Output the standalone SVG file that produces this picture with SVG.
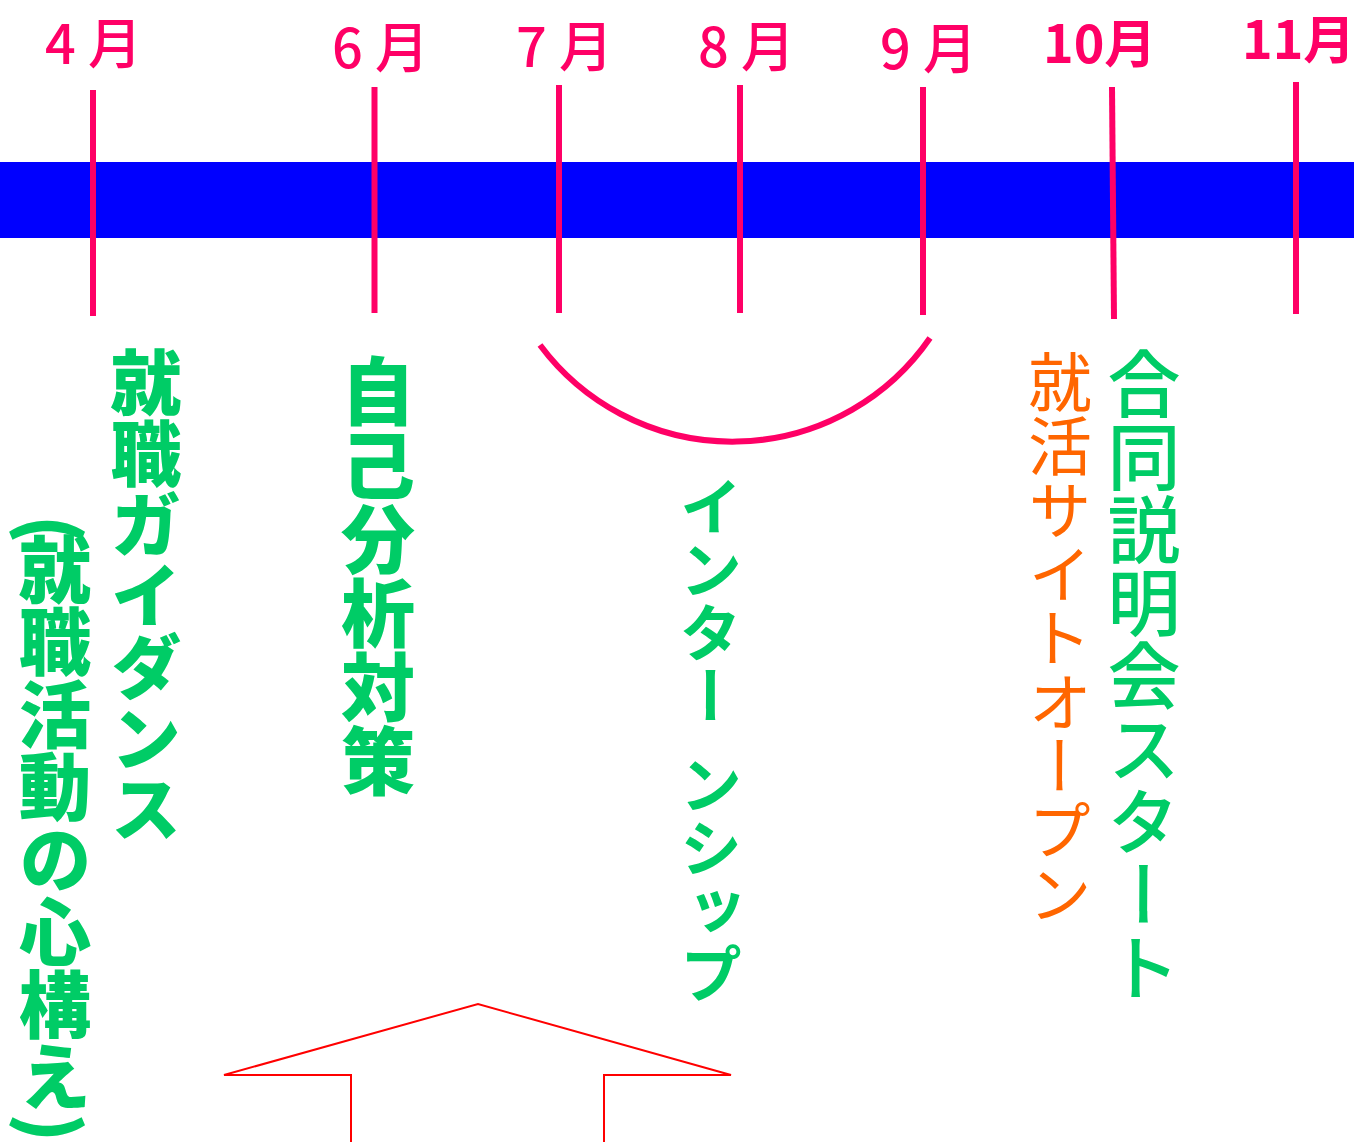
<svg xmlns="http://www.w3.org/2000/svg" width="1354" height="1142" viewBox="0 0 1354 1142">
<style>
.tick{stroke:#FF0066;stroke-width:6;fill:none}
.mon{font-family:"Noto Sans CJK JP","Noto Sans",sans-serif;font-size:54px;fill:#FF0066;font-weight:500}
.monb{font-family:"Noto Sans CJK JP","Noto Sans",sans-serif;font-size:52px;fill:#FF0066;font-weight:700}
.vt{font-family:"Noto Sans CJK JP",sans-serif;writing-mode:vertical-rl;text-orientation:mixed}
.g{fill:#00CC66}
.o{fill:#FF6600}
</style>
<rect id="bar" x="0" y="162" width="1354" height="76" fill="#0000FF"/>
<g id="m4"><line class="tick" x1="93" y1="90" x2="93" y2="316"/><text class="mon" x="45" y="64">4 月</text></g>
<g id="m6"><line class="tick" x1="374.5" y1="87" x2="374.5" y2="313"/><text class="mon" x="332" y="68">6 月</text></g>
<g id="m7"><line class="tick" x1="559" y1="85" x2="559" y2="313"/><text class="mon" x="516" y="67">7 月</text></g>
<g id="m8"><line class="tick" x1="740" y1="85" x2="740" y2="313"/><text class="mon" x="698" y="67">8 月</text></g>
<g id="m9"><line class="tick" x1="923" y1="87" x2="923" y2="315"/><text class="mon" x="880" y="69">9 月</text></g>
<g id="m10"><line class="tick" x1="1112" y1="87" x2="1114" y2="319"/><text class="monb" x="1043" y="63">10月</text></g>
<g id="m11"><line class="tick" x1="1296" y1="82" x2="1296" y2="314"/><text class="monb" x="1242" y="59">11月</text></g>
<g id="guidance"><text class="vt g" x="146" y="347" font-size="71" font-weight="900">就職ガイダンス</text></g>
<g id="kokoro"><text class="vt g" x="55" y="515" font-size="72.5" font-weight="900">(<tspan y="533">就職活動の心構え</tspan>)</text></g>
<g id="jiko"><text class="vt g" x="378" y="354" font-size="74" font-weight="900">自己分析対策</text></g>
<g id="intern"><text class="vt g" x="711" y="475" font-size="63" font-weight="700">インター<tspan y="753">ンシップ</tspan></text></g>
<g id="site"><text class="vt o" x="1060" y="350" font-size="64" font-weight="400">就活サイトオープン</text></g>
<g id="setsumeikai"><text class="vt g" x="1144" y="347" font-size="73" font-weight="500">合同説明会スタート</text></g>
<g id="connectors">
<path d="M540,345 A240,240 0 0 0 930,338" stroke="#FF0066" stroke-width="6" fill="none"/>
<polyline points="351,1150 351,1075 224,1075 478,1004 731,1075 604,1075 604,1150" stroke="#FF0000" stroke-width="2" fill="none"/>
</g>
</svg>
